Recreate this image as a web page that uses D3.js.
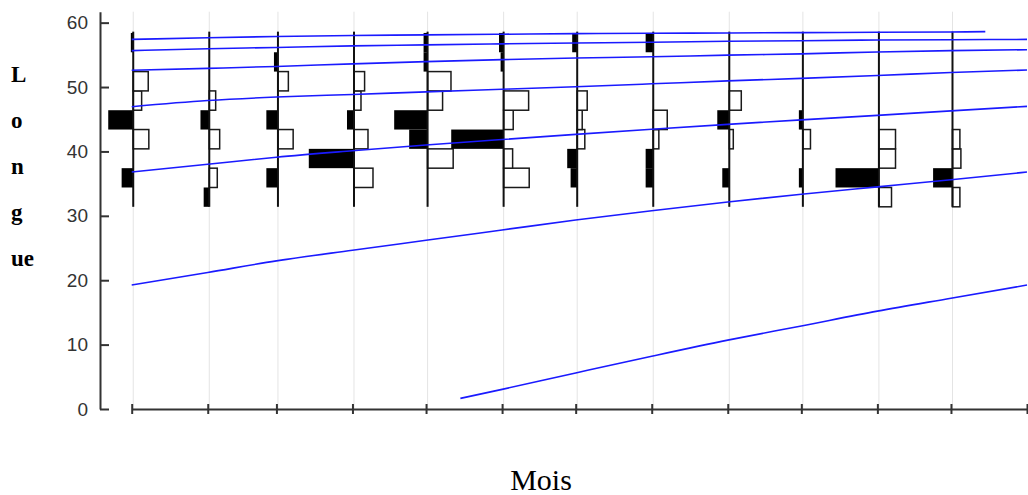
<!DOCTYPE html>
<html><head><meta charset="utf-8">
<script src="https://cdn.jsdelivr.net/npm/d3@7"></script>
<style>body{margin:0;background:#fff}svg{display:block}</style>
</head><body><svg id="chart" width="1028" height="495"></svg>
<script>
// ---------- data ----------
const monthDates = ["2001-01-01","2001-02-01","2001-03-01","2001-04-01","2001-05-01","2001-06-01",
                    "2001-07-01","2001-08-01","2001-09-01","2001-10-01","2001-11-01","2001-12-01"];
const axisTickDates = monthDates.concat(["2002-01-01"]);
const sampleTime = "T15:00"; // sampling moment within the first day of each month
const binEdges = [31.4,34.4,37.4,40.4,43.4,46.4,49.4,52.4,55.4,58.4];
// left (black) frequencies, per month, per length class (bottom -> top)
const blackFreq = [
  [0,5.8,0,0,12.5,0,0,0,1.2],
  [2.8,0,0,0,4.4,0,0,0,0],
  [0,5.8,0,0,5.8,0,0,2,0],
  [0,0,22.6,0,3.5,0,0,0,0],
  [0,0,0,9.2,16.7,0,0,2,2],
  [0,0,0,26.2,0,0,0,1.5,2.3],
  [0,3.3,5,0,0,0,0,0,2.5],
  [0,3.8,3.8,0,0,0,0,0,3.8],
  [0,3.5,0,0,6,0,0,0,0],
  [0,2,0,0,2,0,0,0,0],
  [0,21.7,0,0,0,0,0,0,0],
  [0,9.7,0,0,0,0,0,0,0]
];
// right (white) frequencies
const whiteFreq = [
  [0,0,0,7.8,0,4.2,7.5,0,0],
  [0,4,0,5.2,0,3.2,0,0,0],
  [0,0,0,7.6,0,0,5.2,0,0],
  [0,9.5,0,7,0,3.5,5.3,0,0],
  [0,0,12.8,0,0,7.5,11.7,0,0],
  [0,12.8,4.5,0,4.8,12.5,0,0,0],
  [0,0,0,3.8,2.5,5,0,0,0],
  [0,0,0,2.8,7,0,0,0,0],
  [0,0,0,2,0,6,0,0,0],
  [0,0,0,3.8,0,0,0,0,0],
  [6.3,0,8.3,8.3,0,0,0,0,0],
  [3.7,0,4.2,3.7,0,0,0,0,0]
];
// growth curves (cohorts), values at month starts
const cohort1 = [["2001-01-01",57.4],["2001-02-01",57.65],["2001-03-01",57.85],["2001-04-01",58.0],["2001-05-01",58.1],["2001-06-01",58.2],["2001-07-01",58.3],["2001-08-01",58.35],["2001-09-01",58.4],["2001-10-01",58.45],["2001-11-01",58.5],["2001-12-01",58.55],["2001-12-15",58.6]];
const cohort2 = [["2001-01-01",55.65],["2001-02-01",55.95],["2001-03-01",56.15],["2001-04-01",56.4],["2001-05-01",56.55],["2001-06-01",56.7],["2001-07-01",56.85],["2001-08-01",56.95],["2001-09-01",57.1],["2001-10-01",57.2],["2001-11-01",57.3],["2001-12-01",57.35],["2002-01-01",57.4]];
const cohort3 = [["2001-01-01",52.6],["2001-02-01",52.9],["2001-03-01",53.2],["2001-04-01",53.6],["2001-05-01",53.95],["2001-06-01",54.25],["2001-07-01",54.5],["2001-08-01",54.7],["2001-09-01",54.95],["2001-10-01",55.15],["2001-11-01",55.45],["2001-12-01",55.65],["2002-01-01",55.8]];
const cohort4 = [["2001-01-01",46.95],["2001-02-01",47.9],["2001-03-01",48.45],["2001-04-01",48.85],["2001-05-01",49.25],["2001-06-01",49.65],["2001-07-01",50.05],["2001-08-01",50.5],["2001-09-01",50.95],["2001-10-01",51.35],["2001-11-01",51.8],["2001-12-01",52.25],["2002-01-01",52.65]];
const cohort5 = [["2001-01-01",36.8],["2001-02-01",38.0],["2001-03-01",39.1],["2001-04-01",40.1],["2001-05-01",41.0],["2001-06-01",41.85],["2001-07-01",42.65],["2001-08-01",43.45],["2001-09-01",44.2],["2001-10-01",44.9],["2001-11-01",45.6],["2001-12-01",46.3],["2002-01-01",47.0]];
const cohort6 = [["2001-01-01",19.25],["2001-02-01",21.2],["2001-03-01",23.0],["2001-04-01",24.65],["2001-05-01",26.2],["2001-06-01",27.8],["2001-07-01",29.35],["2001-08-01",30.8],["2001-09-01",32.15],["2001-10-01",33.35],["2001-11-01",34.5],["2001-12-01",35.6],["2002-01-01",36.8]];
const cohort7 = [["2001-05-15",1.65],["2001-06-01",3.05],["2001-07-01",5.6],["2001-08-01",8.2],["2001-09-01",10.7],["2001-10-01",12.9],["2001-11-01",15.2],["2001-12-01",17.2],["2002-01-01",19.25]];
const cohorts = [cohort1,cohort2,cohort3,cohort4,cohort5,cohort6,cohort7];
const yTicks = [0,10,20,30,40,50,60];
const yLabelLetters = ["L","o","n","g","ue"];
const xTitle = "Mois";

// ---------- chart ----------
const parseDay = d3.timeParse("%Y-%m-%d");
const parseDT = d3.timeParse("%Y-%m-%dT%H:%M");
const svg = d3.select("#chart");
const x = d3.scaleTime().domain([parseDay("2001-01-01"), parseDay("2002-01-01")]).range([131.7, 1027]);
const y = d3.scaleLinear().domain([0, 61.7]).range([409, 11.7]);
const w = d3.scaleLinear().domain([0, 1]).range([0, 2]);

const sampleX = monthDates.map(d => x(parseDT(d + sampleTime)));

// gridlines
svg.append("g").selectAll("line").data(sampleX).join("line")
  .attr("x1", d => d).attr("x2", d => d)
  .attr("y1", y(61.7)).attr("y2", y(0))
  .attr("stroke", "#e4e4e4").attr("stroke-width", 1);

// y axis
const yAxis = d3.axisLeft(y).tickValues(yTicks).tickSize(-9).tickSizeOuter(0).tickPadding(12);
const gy = svg.append("g").attr("transform", "translate(100,0)").call(yAxis);
gy.select(".domain").attr("stroke", "#333").attr("stroke-width", 2);
gy.selectAll(".tick line").attr("stroke", "#333").attr("stroke-width", 2);
gy.selectAll(".tick text").attr("font-family", "'Liberation Sans', Arial, sans-serif")
  .attr("font-size", 19).attr("fill", "#333");

// x axis
const xAxis = d3.axisBottom(x).tickValues(axisTickDates.map(parseDay)).tickSize(5).tickSizeOuter(0).tickFormat("");
const gx = svg.append("g").attr("transform", "translate(0,409)").call(xAxis);
gx.select(".domain").attr("stroke", "#333").attr("stroke-width", 2);
gx.selectAll(".tick line").attr("y1", -5).attr("y2", 5).attr("stroke", "#333").attr("stroke-width", 2);

// histograms
const bins = d3.range(binEdges.length - 1);
monthDates.forEach((m, i) => {
  const mx = sampleX[i];
  const g = svg.append("g");
  g.selectAll("rect.b").data(bins.filter(j => blackFreq[i][j] > 0)).join("rect")
    .attr("x", j => mx - w(blackFreq[i][j])).attr("width", j => w(blackFreq[i][j]))
    .attr("y", j => y(binEdges[j + 1])).attr("height", j => y(binEdges[j]) - y(binEdges[j + 1]))
    .attr("fill", "#000");
  g.selectAll("rect.w").data(bins.filter(j => whiteFreq[i][j] > 0)).join("rect")
    .attr("x", mx).attr("width", j => w(whiteFreq[i][j]))
    .attr("y", j => y(binEdges[j + 1])).attr("height", j => y(binEdges[j]) - y(binEdges[j + 1]))
    .attr("fill", "#fff").attr("stroke", "#1a1a1a").attr("stroke-width", 1.5);
  g.append("line").attr("x1", mx).attr("x2", mx)
    .attr("y1", y(binEdges[0])).attr("y2", y(binEdges[binEdges.length - 1]) - 1.3)
    .attr("stroke", "#111").attr("stroke-width", 2);
});

// growth curves
const line = d3.line().x(d => x(parseDay(d[0]))).y(d => y(d[1])).curve(d3.curveMonotoneX);
svg.append("g").selectAll("path").data(cohorts).join("path")
  .attr("d", line).attr("fill", "none").attr("stroke", "#1a1aff").attr("stroke-width", 1.6);

// y label (stacked letters)
const labelBaselines = d3.scaleLinear().domain([0, yLabelLetters.length - 1]).range([82, 266]);
svg.append("g").selectAll("text").data(yLabelLetters).join("text")
  .attr("x", 11).attr("y", (d, i) => labelBaselines(i))
  .attr("font-family", "'Liberation Serif', 'Times New Roman', serif")
  .attr("font-weight", "bold").attr("font-size", 23).attr("fill", "#000")
  .text(d => d);

// x title
svg.append("text").attr("x", 541).attr("y", 490).attr("text-anchor", "middle")
  .attr("font-family", "'Liberation Serif', 'Times New Roman', serif")
  .attr("font-size", 30).attr("fill", "#000").text(xTitle);
</script></body></html>
